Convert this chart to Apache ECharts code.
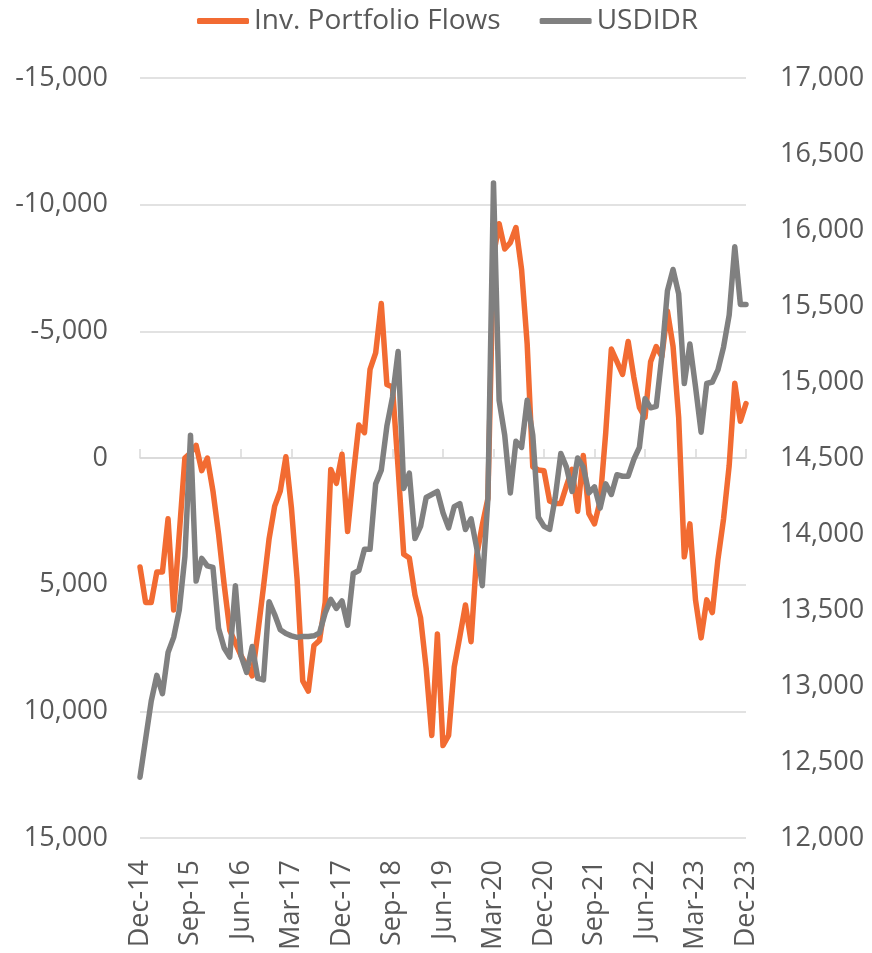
<!DOCTYPE html>
<html>
<head>
<meta charset="utf-8">
<title>Inv. Portfolio Flows vs USDIDR</title>
<script src="https://cdn.jsdelivr.net/npm/echarts@6/dist/echarts.min.js"></script>
<style>
html, body { margin: 0; padding: 0; background: #fff; }
#main { width: 872px; height: 953px; }
</style>
</head>
<body>
<div id="main"></div>
<script>
// monthly, Dec-14 .. Dec-23
var monthNames = ['Jan', 'Feb', 'Mar', 'Apr', 'May', 'Jun', 'Jul', 'Aug', 'Sep', 'Oct', 'Nov', 'Dec'];
var months = [];
for (var k = 0; k < 109; k++) {
	var m = 11 + k;
	months.push(monthNames[m % 12] + '-' + (14 + Math.floor(m / 12)));
}

// left axis (inverted), USD mn
var flows = [
	4300, 5700, 5700, 4500, 4500, 2400, 6000, 3000, 0, -200, -500, 500,
	0, 1300, 3000, 5000, 6800, 7300, 7800, 8200, 8600, 6900, 5100, 3200,
	1900, 1300, -50, 2000, 4800, 8800, 9200, 7400, 7200, 5700, 450, 1000,
	-150, 2900, 700, -1300, -1000, -3500, -4150, -6100, -2900, -2800, 400, 3800,
	3950, 5400, 6300, 8300, 10950, 6950, 11350, 10950, 8250, 7050, 5800, 7250,
	3850, 2650, 1600, -8000, -9250, -8250, -8500, -9100, -7450, -4500, 350, 470,
	500, 1700, 1800, 1800, 1100, 450, 2100, -100, 2200, 2600, 1700, -1000,
	-4300, -3800, -3300, -4600, -3200, -2000, -1600, -3800, -4400, -4000, -5800, -4400,
	-1600, 3900, 2600, 5600, 7100, 5600, 6100, 4000, 2400, 300, -2950, -1450,
	-2150
];

// right axis
var usdidr = [
	12400, 12650, 12900, 13070, 12950, 13220, 13320, 13500, 13850, 14650, 13690, 13840,
	13790, 13780, 13380, 13250, 13190, 13660, 13200, 13090, 13260, 13050, 13040, 13555,
	13470, 13370, 13345, 13330, 13320, 13325, 13325, 13330, 13350, 13480, 13570, 13510,
	13560, 13400, 13740, 13760, 13900, 13900, 14330, 14420, 14710, 14900, 15200, 14300,
	14400, 13970, 14050, 14240, 14260, 14280, 14140, 14040, 14180, 14200, 14030, 14100,
	13910, 13660, 14230, 16310, 14880, 14650, 14270, 14610, 14570, 14880, 14650, 14110,
	14050, 14030, 14240, 14530, 14440, 14280, 14500, 14440, 14270, 14310, 14170, 14330,
	14260, 14390, 14380, 14380, 14490, 14570, 14890, 14830, 14840, 15170, 15600, 15740,
	15580, 14990, 15250, 14970, 14670, 14990, 15000, 15080, 15230, 15440, 15890, 15510,
	15510
];

var textColor = '#595959';
var gridColor = '#d9d9d9';
var orange = '#f26b32';
var grey = '#808080';
var font = '"Open Sans", "Noto Sans", sans-serif';

function fmt(v) {
	return v.toLocaleString('en-US');
}

var myChart = echarts.init(document.getElementById('main'));
var option = {
	animation: false,
	backgroundColor: '#fff',
	textStyle: { fontFamily: font },
	legend: {
		top: 2,
		left: 192,
		icon: 'roundRect',
		itemWidth: 52,
		itemHeight: 6,
		itemGap: 39,
		textStyle: { color: textColor, fontSize: 28, fontFamily: font },
		data: ['Inv. Portfolio Flows', 'USDIDR']
	},
	grid: { left: 140, right: 126, top: 78, bottom: 115, containLabel: false },
	xAxis: [{
		type: 'category',
		data: months,
		boundaryGap: false,
		axisLine: { show: false, onZero: false },
		axisTick: { show: false },
		splitLine: { show: false },
		axisLabel: { interval: 8, rotate: 90, margin: 22, color: textColor, fontSize: 27, fontFamily: font }
	}, {
		// zero line with its tick marks
		type: 'category',
		data: months,
		boundaryGap: false,
		position: 'top',
		offset: -380,
		axisLine: { show: true, onZero: false, lineStyle: { color: gridColor, width: 1.5 } },
		axisTick: { show: true, interval: 8, length: 9, lineStyle: { color: gridColor, width: 1.5 } },
		axisLabel: { show: false },
		splitLine: { show: false }
	}],
	yAxis: [{
		type: 'value',
		inverse: true,
		min: -15000,
		max: 15000,
		interval: 5000,
		axisLine: { show: false },
		axisTick: { show: false },
		splitLine: { show: true, lineStyle: { color: gridColor, width: 1.5 } },
		axisLabel: { color: textColor, fontSize: 27, fontFamily: font, margin: 32, formatter: fmt }
	}, {
		type: 'value',
		min: 12000,
		max: 17000,
		interval: 500,
		axisLine: { show: false },
		axisTick: { show: false },
		splitLine: { show: false },
		axisLabel: { color: textColor, fontSize: 27, fontFamily: font, margin: 34, formatter: fmt }
	}],
	series: [{
		name: 'Inv. Portfolio Flows',
		type: 'line',
		xAxisIndex: 0,
		yAxisIndex: 0,
		data: flows,
		symbol: 'none',
		itemStyle: { color: orange },
		lineStyle: { color: orange, width: 5.5, cap: 'round', join: 'round' }
	}, {
		name: 'USDIDR',
		type: 'line',
		xAxisIndex: 0,
		yAxisIndex: 1,
		data: usdidr,
		symbol: 'none',
		itemStyle: { color: grey },
		lineStyle: { color: grey, width: 5.5, cap: 'round', join: 'round' }
	}]
};
myChart.setOption(option);
</script>
</body>
</html>
